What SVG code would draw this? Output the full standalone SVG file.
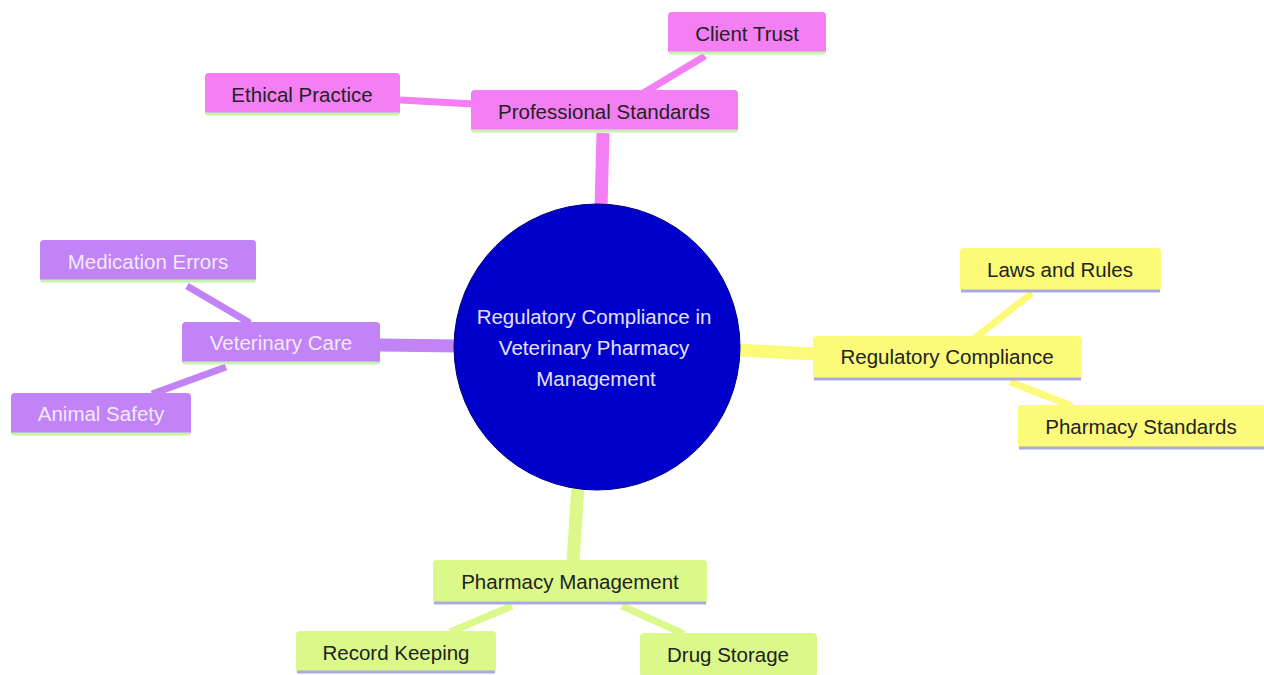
<svg xmlns="http://www.w3.org/2000/svg" width="1264" height="675" viewBox="0 0 1264 675">
<style>
text{font-family:"Liberation Sans",Arial,sans-serif;font-size:20.5px;text-anchor:middle;dominant-baseline:central}
.pk{fill:#f47ff4}.pu{fill:#c183f5}.ye{fill:#fbfb79}.gr{fill:#dbf98a}
.lpk,.lpu{stroke:#c8f2b0;stroke-width:3}
.lye,.lgr{stroke:#a9a9e6;stroke-width:3}
.tdark{fill:#222}.tlight{fill:#f2eafc}
.epk{stroke:#f47ff4}.epu{stroke:#c183f5}.eye{stroke:#fbfb79}.egr{stroke:#dbf98a}
.e1{stroke-width:13;fill:none}.e2{stroke-width:7;fill:none}
</style>
<rect width="1264" height="675" fill="#ffffff"/>
<g id="connectors">
<line class="epk e1" x1="601" y1="210" x2="603" y2="133"/>
<line class="epk e2" x1="705" y1="56" x2="640" y2="95"/>
<line class="epk e2" x1="400" y1="100" x2="474" y2="104"/>
<line class="epu e1" x1="380" y1="345" x2="458" y2="346"/>
<line class="epu e2" x1="187" y1="286" x2="250" y2="323"/>
<line class="epu e2" x1="152" y1="394" x2="226" y2="367"/>
<line class="eye e1" x1="736" y1="350" x2="815" y2="354"/>
<line class="eye e2" x1="1032" y1="293" x2="975" y2="338"/>
<line class="eye e2" x1="1010" y1="382" x2="1072" y2="406"/>
<line class="egr e1" x1="578" y1="485" x2="573" y2="562"/>
<line class="egr e2" x1="512" y1="606" x2="450" y2="632"/>
<line class="egr e2" x1="622" y1="606" x2="684" y2="634"/>
</g>
<g id="root">
<circle cx="597" cy="347" r="143" fill="#0000cc" stroke="#00007a" stroke-width="1"/>
<text x="594" y="316" fill="#e6e0ff">Regulatory Compliance in</text>
<text x="594" y="347" fill="#e6e0ff">Veterinary Pharmacy</text>
<text x="596" y="378" fill="#e6e0ff">Management</text>
</g>
<g id="professional-standards">
<rect class="pk" x="471" y="90" width="267" height="42" rx="4"/>
<line class="lpk" x1="472" y1="131" x2="737" y2="131"/>
<text class="tdark" x="604" y="111">Professional Standards</text>
</g>
<g id="client-trust">
<rect class="pk" x="668" y="12" width="158" height="42" rx="4"/>
<line class="lpk" x1="669" y1="53" x2="825" y2="53"/>
<text class="tdark" x="747" y="33">Client Trust</text>
</g>
<g id="ethical-practice">
<rect class="pk" x="205" y="73" width="195" height="42" rx="4"/>
<line class="lpk" x1="206" y1="114" x2="399" y2="114"/>
<text class="tdark" x="302" y="94">Ethical Practice</text>
</g>
<g id="veterinary-care">
<rect class="pu" x="182" y="322" width="198" height="42" rx="4"/>
<line class="lpu" x1="183" y1="363" x2="379" y2="363"/>
<text class="tlight" x="281" y="342">Veterinary Care</text>
</g>
<g id="medication-errors">
<rect class="pu" x="40" y="240" width="216" height="42" rx="4"/>
<line class="lpu" x1="41" y1="281" x2="255" y2="281"/>
<text class="tlight" x="148" y="261">Medication Errors</text>
</g>
<g id="animal-safety">
<rect class="pu" x="11" y="393" width="180" height="42" rx="4"/>
<line class="lpu" x1="12" y1="434" x2="190" y2="434"/>
<text class="tlight" x="101" y="413">Animal Safety</text>
</g>
<g id="regulatory-compliance">
<rect class="ye" x="813" y="336" width="269" height="44" rx="4"/>
<line class="lye" x1="814" y1="379" x2="1081" y2="379"/>
<text class="tdark" x="947" y="356">Regulatory Compliance</text>
</g>
<g id="laws-and-rules">
<rect class="ye" x="960" y="248" width="201" height="44" rx="4"/>
<line class="lye" x1="961" y1="291" x2="1160" y2="291"/>
<text class="tdark" x="1060" y="269">Laws and Rules</text>
</g>
<g id="pharmacy-standards">
<rect class="ye" x="1018" y="405" width="250" height="44" rx="4"/>
<line class="lye" x1="1019" y1="448" x2="1264" y2="448"/>
<text class="tdark" x="1141" y="426">Pharmacy Standards</text>
</g>
<g id="pharmacy-management">
<rect class="gr" x="433" y="560" width="274" height="44" rx="4"/>
<line class="lgr" x1="434" y1="603" x2="706" y2="603"/>
<text class="tdark" x="570" y="581">Pharmacy Management</text>
</g>
<g id="record-keeping">
<rect class="gr" x="296" y="631" width="200" height="42" rx="4"/>
<line class="lgr" x1="297" y1="672" x2="495" y2="672"/>
<text class="tdark" x="396" y="652">Record Keeping</text>
</g>
<g id="drug-storage">
<rect class="gr" x="640" y="633" width="177" height="44" rx="4"/>
<text class="tdark" x="728" y="654">Drug Storage</text>
</g>
</svg>
